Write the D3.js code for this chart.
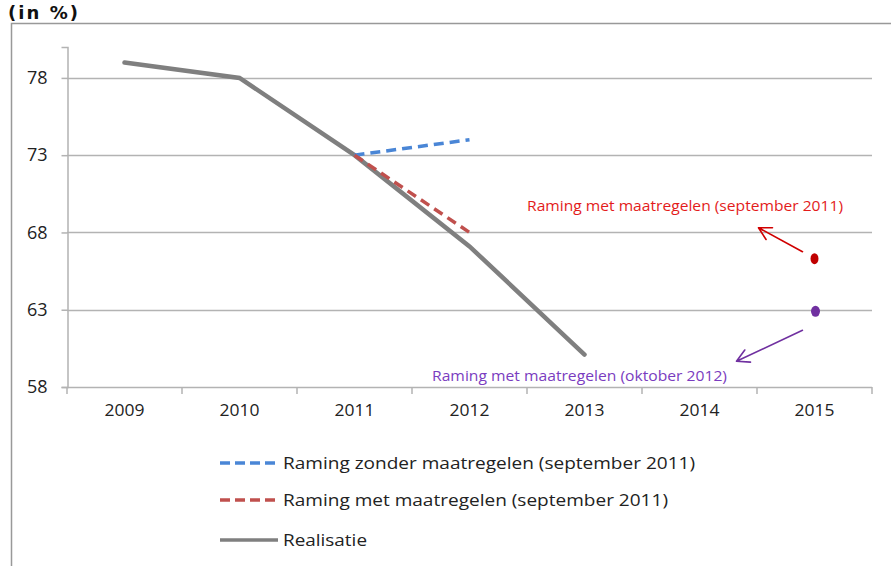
<!DOCTYPE html>
<html>
<head>
<meta charset="utf-8">
<script src="https://cdn.jsdelivr.net/npm/d3@7"></script>
<style>
  body { margin: 0; background: #fff; }
  text { font-family: "Open Sans", "Liberation Sans", sans-serif; }
</style>
</head>
<body>
<div id="chart"></div>
<script>
var years = ['2009', '2010', '2011', '2012', '2013', '2014', '2015'];
var yTicks = [58, 63, 68, 73, 78];

var realisatie = [['2009', 79.0], ['2010', 78.0], ['2011', 73.0], ['2012', 67.1], ['2013', 60.1]];
var zonderSep2011 = [['2011', 73.0], ['2012', 74.0]];
var metSep2011 = [['2011', 73.0], ['2012', 68.0]];
var puntSep2011 = ['2015', 66.3];
var puntOkt2012 = ['2015', 62.9];

var legendLabels = [
  'Raming zonder maatregelen (september 2011)',
  'Raming met maatregelen (september 2011)',
  'Realisatie'
];

var width = 891, height = 566;

var svg = d3.select('#chart').append('svg')
    .attr('width', width)
    .attr('height', height);

// outer frame (top + left only visible)
svg.append('path')
  .attr('d', 'M11.5,566 L11.5,23.5 L891,23.5')
  .attr('fill', 'none')
  .attr('stroke', '#999')
  .attr('stroke-width', 1.5);

svg.append('text')
  .text('(in %)')
  .attr('x', 8)
  .attr('y', 19)
  .attr('textLength', 70)
  .attr('lengthAdjust', 'spacing')
  .style('font-family', '"DejaVu Sans", sans-serif')
  .style('font-weight', 'bold')
  .style('font-size', '18px')
  .attr('fill', '#111');

var x = d3.scaleBand().domain(years).range([67, 872]);
var y = d3.scaleLinear().domain([58, 80]).range([387, 47]);

function cx(d) { return x(d[0]) + x.bandwidth() / 2; }
function cy(d) { return y(d[1]); }

// gridlines
svg.append('g').selectAll('line')
  .data(yTicks)
  .enter().append('line')
  .attr('x1', 67).attr('x2', 872)
  .attr('y1', function(d) { return Math.round(y(d)) + 0.5; })
  .attr('y2', function(d) { return Math.round(y(d)) + 0.5; })
  .attr('stroke', '#b3b3b3')
  .attr('stroke-width', 1.5);

// y axis
var yAxis = svg.append('g')
  .attr('transform', 'translate(67.5,0)')
  .call(d3.axisLeft(y).tickValues(yTicks).tickSize(6).tickPadding(14));
yAxis.select('.domain').attr('stroke', '#b3b3b3').attr('stroke-width', 1.5);
yAxis.selectAll('.tick line').attr('stroke', '#b3b3b3').attr('stroke-width', 1.5);
yAxis.selectAll('.tick text')
  .attr('font-size', 18)
  .attr('font-family', '"Open Sans", sans-serif')
  .attr('fill', '#222');

// x axis
var xAxis = svg.append('g')
  .attr('transform', 'translate(0,' + (Math.round(y(58)) + 0.5) + ')')
  .call(d3.axisBottom(x).tickSize(0).tickPadding(16));
xAxis.select('.domain').remove();
xAxis.selectAll('.tick text')
  .attr('font-size', 17)
  .attr('font-family', '"Open Sans", sans-serif')
  .attr('textLength', 40)
  .attr('lengthAdjust', 'spacingAndGlyphs')
  .attr('fill', '#222');
svg.append('g').selectAll('line')
  .data(years.concat(['end']))
  .enter().append('line')
  .attr('x1', function(d, i) { return i < years.length ? x(d) : x.range()[1]; })
  .attr('x2', function(d, i) { return i < years.length ? x(d) : x.range()[1]; })
  .attr('y1', y(58))
  .attr('y2', y(58) + 7)
  .attr('stroke', '#b3b3b3')
  .attr('stroke-width', 1.5);

var line = d3.line().x(cx).y(cy);

svg.append('path')
  .datum(realisatie)
  .attr('d', line)
  .attr('fill', 'none')
  .attr('stroke', '#7f7f7f')
  .attr('stroke-width', 4.5)
  .attr('stroke-linecap', 'round');

svg.append('path')
  .datum(zonderSep2011)
  .attr('d', line)
  .attr('fill', 'none')
  .attr('stroke', '#4a86d6')
  .attr('stroke-width', 3.5)
  .attr('stroke-dasharray', '10,6');

svg.append('path')
  .datum(metSep2011)
  .attr('d', line)
  .attr('fill', 'none')
  .attr('stroke', '#c0504d')
  .attr('stroke-width', 3.5)
  .attr('stroke-dasharray', '10,6');

// hand-drawn points for 2015
svg.append('ellipse')
  .attr('cx', cx(puntSep2011)).attr('cy', cy(puntSep2011))
  .attr('rx', 4).attr('ry', 5.5)
  .attr('fill', '#c00000');
svg.append('ellipse')
  .attr('cx', cx(puntOkt2012) + 1).attr('cy', cy(puntOkt2012))
  .attr('rx', 4.5).attr('ry', 5.5)
  .attr('fill', '#7030a0');

// arrows
function arrow(x1, y1, x2, y2, color) {
  var ang = Math.atan2(y2 - y1, x2 - x1);
  var L = 14, spread = 0.5;
  var a1 = [x2 - L * Math.cos(ang - spread), y2 - L * Math.sin(ang - spread)];
  var a2 = [x2 - L * Math.cos(ang + spread), y2 - L * Math.sin(ang + spread)];
  svg.append('path')
    .attr('d', 'M' + x1 + ',' + y1 + 'L' + x2 + ',' + y2 +
               'M' + a1[0] + ',' + a1[1] + 'L' + x2 + ',' + y2 + 'L' + a2[0] + ',' + a2[1])
    .attr('fill', 'none')
    .attr('stroke', color)
    .attr('stroke-width', 1.6)
    .attr('stroke-linecap', 'round')
    .attr('stroke-linejoin', 'round');
}
var rx = cx(puntSep2011), ry = cy(puntSep2011);
arrow(rx - 12, ry - 7, rx - 56, ry - 31, '#d00000');
var px = cx(puntOkt2012), py = cy(puntOkt2012);
arrow(px - 12, py + 19, px - 78, py + 50, '#7030a0');

svg.append('text')
  .text('Raming  met maatregelen (september 2011)')
  .attr('x', 527).attr('y', 211)
  .attr('textLength', 316)
  .attr('lengthAdjust', 'spacingAndGlyphs')
  .style('font-size', '15px')
  .attr('fill', '#e31b1b');

svg.append('text')
  .text('Raming  met maatregelen (oktober 2012)')
  .attr('x', 432).attr('y', 381)
  .attr('textLength', 295)
  .attr('lengthAdjust', 'spacingAndGlyphs')
  .style('font-size', '15px')
  .attr('fill', '#7a3cc0');

// legend
var legendStyles = [
  { color: '#4a86d6', dash: '10,5' },
  { color: '#c0504d', dash: '10,5' },
  { color: '#7f7f7f', dash: null }
];
var legendY = [463, 500, 540];
var legendW = [412, 385, 84];

var legend = svg.append('g').selectAll('g')
  .data(legendLabels)
  .enter().append('g')
  .attr('transform', function(d, i) { return 'translate(0,' + legendY[i] + ')'; });

legend.append('line')
  .attr('x1', 220).attr('x2', 278)
  .attr('y1', 0).attr('y2', 0)
  .attr('stroke', function(d, i) { return legendStyles[i].color; })
  .attr('stroke-width', 3.5)
  .attr('stroke-dasharray', function(d, i) { return legendStyles[i].dash; });

legend.append('text')
  .text(function(d) { return d; })
  .attr('x', 283)
  .attr('y', 6)
  .attr('textLength', function(d, i) { return legendW[i]; })
  .attr('lengthAdjust', 'spacingAndGlyphs')
  .style('font-size', '17px')
  .attr('fill', '#222');
</script>
</body>
</html>
